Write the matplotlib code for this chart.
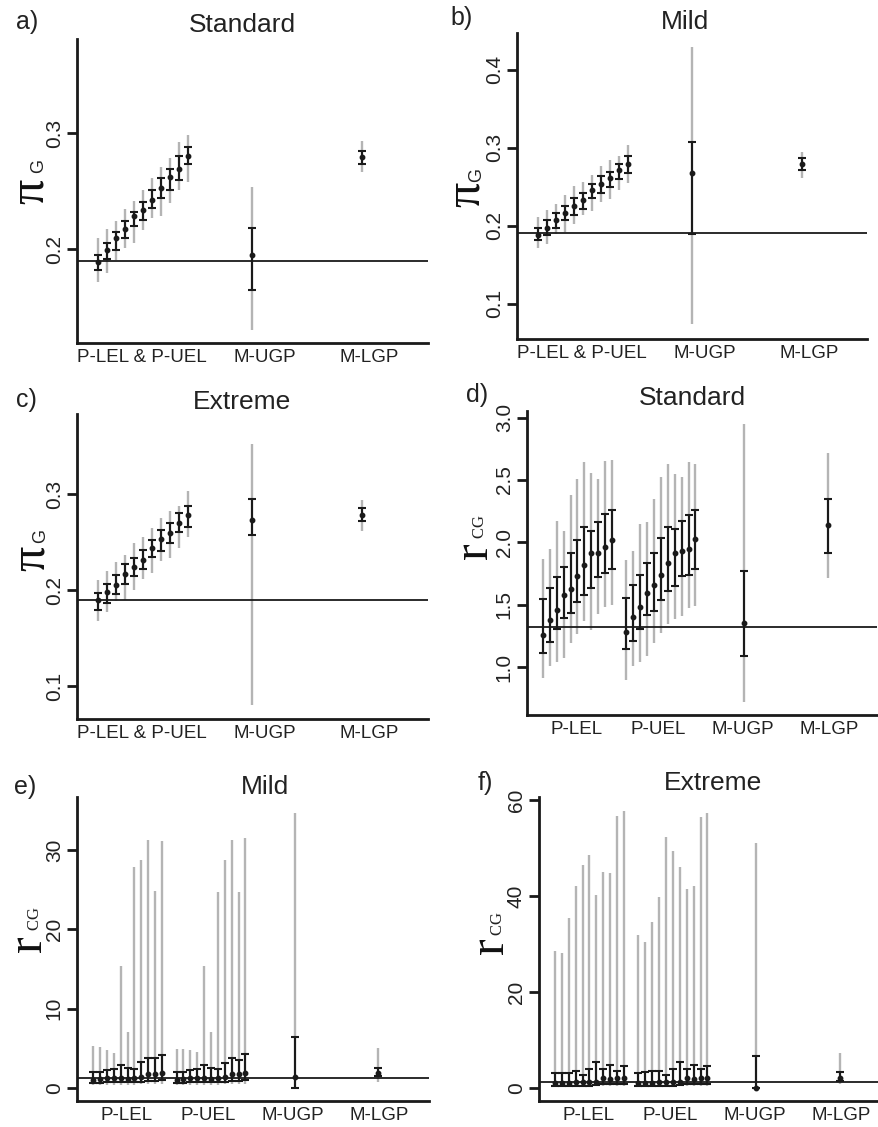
import numpy as np
import matplotlib
matplotlib.use("Agg")
import matplotlib.pyplot as plt

plt.rcParams['font.family'] = ['Liberation Sans', 'DejaVu Sans']
plt.rcParams['mathtext.fontset'] = 'custom'
plt.rcParams['mathtext.rm'] = 'Liberation Serif'
plt.rcParams['mathtext.it'] = 'Liberation Serif:italic'
plt.rcParams['mathtext.bf'] = 'Liberation Serif:bold'
plt.rcParams['mathtext.sf'] = 'Liberation Sans'

# ---------------- data ----------------
# panels a-c: 11 points (P-LEL & P-UEL), then M-UGP, M-LGP
a_est    = [0.1885, 0.1989, 0.2098, 0.2172, 0.2287, 0.2339, 0.2420, 0.2523, 0.2621, 0.2690, 0.2799, 0.1948, 0.2793]
a_in_lo  = [0.1816, 0.1914, 0.1989, 0.2092, 0.2195, 0.2253, 0.2356, 0.2437, 0.2511, 0.2598, 0.2736, 0.1644, 0.2730]
a_in_hi  = [0.1948, 0.2052, 0.2149, 0.2241, 0.2322, 0.2402, 0.2511, 0.2609, 0.2690, 0.2805, 0.2879, 0.2184, 0.2845]
a_out_lo = [0.1713, 0.1793, 0.1902, 0.2011, 0.2052, 0.2161, 0.2270, 0.2287, 0.2397, 0.2511, 0.2575, 0.1305, 0.2667]
a_out_hi = [0.2092, 0.2172, 0.2241, 0.2345, 0.2414, 0.2506, 0.2609, 0.2707, 0.2787, 0.2920, 0.2983, 0.2534, 0.2931]

b_est    = [0.1880, 0.1974, 0.2068, 0.2162, 0.2256, 0.2325, 0.2453, 0.2538, 0.2607, 0.2709, 0.2786, 0.2675, 0.2786]
b_in_lo  = [0.1821, 0.1880, 0.1974, 0.2077, 0.2137, 0.2214, 0.2350, 0.2419, 0.2496, 0.2598, 0.2675, 0.1889, 0.2718]
b_in_hi  = [0.1966, 0.2068, 0.2162, 0.2256, 0.2350, 0.2419, 0.2530, 0.2641, 0.2692, 0.2795, 0.2889, 0.3077, 0.2872]
b_out_lo = [0.1709, 0.1769, 0.1889, 0.1923, 0.2017, 0.2137, 0.2188, 0.2308, 0.2342, 0.2453, 0.2547, 0.0735, 0.2615]
b_out_hi = [0.2111, 0.2205, 0.2274, 0.2393, 0.2513, 0.2564, 0.2650, 0.2761, 0.2838, 0.2889, 0.3034, 0.4291, 0.2940]

c_est    = [0.1896, 0.1986, 0.2056, 0.2167, 0.2243, 0.2319, 0.2444, 0.2535, 0.2597, 0.2701, 0.2785, 0.2729, 0.2778]
c_in_lo  = [0.1799, 0.1868, 0.1958, 0.2063, 0.2146, 0.2222, 0.2347, 0.2410, 0.2486, 0.2604, 0.2653, 0.2576, 0.2715]
c_in_hi  = [0.1972, 0.2069, 0.2160, 0.2271, 0.2340, 0.2417, 0.2521, 0.2625, 0.2694, 0.2799, 0.2875, 0.2944, 0.2854]
c_out_lo = [0.1681, 0.1778, 0.1889, 0.1896, 0.2000, 0.2118, 0.2174, 0.2306, 0.2340, 0.2444, 0.2556, 0.0806, 0.2611]
c_out_hi = [0.2104, 0.2201, 0.2292, 0.2368, 0.2486, 0.2556, 0.2646, 0.2750, 0.2826, 0.2875, 0.3035, 0.3521, 0.2938]

# panels d-f: 11 P-LEL, 11 P-UEL, then M-UGP, M-LGP
d_est    = [1.256, 1.379, 1.459, 1.581, 1.629, 1.731, 1.816, 1.917, 1.917, 1.965, 2.019,
            1.283, 1.400, 1.480, 1.597, 1.656, 1.736, 1.832, 1.917, 1.928, 1.949, 2.024, 1.357, 2.141]
d_in_lo  = [1.112, 1.203, 1.309, 1.395, 1.432, 1.523, 1.576, 1.635, 1.725, 1.752, 1.789,
            1.144, 1.213, 1.309, 1.416, 1.448, 1.539, 1.608, 1.651, 1.731, 1.741, 1.784, 1.085, 1.917]
d_in_hi  = [1.544, 1.635, 1.725, 1.805, 1.912, 2.019, 2.125, 2.093, 2.163, 2.227, 2.259,
            1.555, 1.661, 1.741, 1.837, 1.917, 2.035, 2.120, 2.109, 2.168, 2.216, 2.259, 1.773, 2.349]
d_out_lo = [0.909, 1.011, 1.037, 1.075, 1.197, 1.267, 1.373, 1.299, 1.427, 1.480, 1.496,
            0.899, 1.011, 1.037, 1.091, 1.197, 1.277, 1.347, 1.384, 1.411, 1.475, 1.491, 0.723, 1.715]
d_out_hi = [1.869, 1.949, 2.173, 2.093, 2.376, 2.509, 2.643, 2.557, 2.509, 2.653, 2.664,
            1.859, 1.928, 2.147, 2.163, 2.344, 2.520, 2.632, 2.547, 2.525, 2.643, 2.632, 2.947, 2.717]

e_est    = [1.05, 1.10, 1.20, 1.20, 1.30, 1.15, 1.20, 1.35, 1.80, 1.80, 1.95,
            1.05, 1.10, 1.20, 1.20, 1.30, 1.15, 1.20, 1.35, 1.80, 1.80, 1.95, 1.43, 1.85]
e_in_lo  = [0.60, 0.65, 0.70, 0.70, 0.75, 0.70, 0.70, 0.75, 0.90, 0.90, 0.95,
            0.60, 0.65, 0.70, 0.70, 0.75, 0.70, 0.70, 0.75, 0.90, 0.90, 0.95, 0.04, 1.51]
e_in_hi  = [2.02, 2.06, 2.27, 2.36, 2.94, 2.52, 2.40, 3.24, 3.82, 3.74, 4.20,
            2.01, 2.01, 2.26, 2.42, 2.93, 2.51, 2.34, 3.18, 3.84, 3.51, 4.26, 6.39, 2.56]
e_out_lo = [0.35, 0.38, 0.40, 0.40, 0.42, 0.40, 0.40, 0.45, 0.50, 0.50, 0.55,
            0.35, 0.38, 0.40, 0.40, 0.42, 0.40, 0.40, 0.45, 0.50, 0.50, 0.55, 0.02, 0.80]
e_out_hi = [5.27, 5.18, 4.76, 4.43, 15.38, 7.10, 27.92, 28.75, 31.26, 24.82, 31.17,
            4.93, 4.93, 4.85, 4.60, 15.38, 7.10, 24.74, 28.75, 31.26, 24.74, 31.51, 34.68, 5.04]

f_est    = [0.97, 0.97, 1.11, 1.18, 1.25, 1.25, 1.32, 2.01, 1.88, 2.15, 2.01,
            0.97, 0.97, 1.11, 1.18, 1.25, 1.25, 1.32, 2.00, 1.90, 2.10, 2.00, 0.07, 2.01]
f_in_lo  = [0.40, 0.40, 0.45, 0.50, 0.50, 0.50, 0.55, 0.80, 0.75, 0.85, 0.80,
            0.40, 0.40, 0.45, 0.50, 0.50, 0.50, 0.55, 0.80, 0.75, 0.85, 0.80, 0.05, 1.46]
f_in_hi  = [3.06, 3.06, 3.19, 3.47, 2.64, 3.89, 5.42, 4.03, 4.86, 3.61, 4.58,
            3.19, 3.33, 3.61, 3.61, 2.64, 3.89, 5.42, 4.03, 4.72, 3.89, 4.58, 6.74, 3.26]
f_out_lo = [0.25, 0.25, 0.28, 0.30, 0.30, 0.30, 0.32, 0.45, 0.42, 0.50, 0.45,
            0.25, 0.25, 0.28, 0.30, 0.30, 0.30, 0.32, 0.45, 0.42, 0.50, 0.45, 0.00, 0.83]
f_out_hi = [28.47, 28.06, 35.42, 42.08, 46.53, 48.47, 40.28, 45.00, 44.86, 56.67, 57.78,
            31.94, 30.42, 34.58, 39.86, 52.36, 49.44, 46.11, 41.53, 42.08, 56.39, 57.22, 51.10, 7.22]

pi_labels = ['P-LEL & P-UEL', 'M-UGP', 'M-LGP']
r_labels = ['P-LEL', 'P-UEL', 'M-UGP', 'M-LGP']
pi_ticks_a = [0.2, 0.3]
pi_ticks_b = [0.1, 0.2, 0.3, 0.4]
pi_ticks_c = [0.1, 0.2, 0.3]
r_ticks_d = [1.0, 1.5, 2.0, 2.5, 3.0]
r_ticks_e = [0, 10, 20, 30]
r_ticks_f = [0, 20, 40, 60]
ref_pi = 0.19
ref_d = 1.32
ref_ef = 1.3

# ---------------- layout ----------------
W, H = 879, 1127
fig = plt.figure(figsize=(W / 100, H / 100), dpi=100)

GRAY = '#b4b4b4'
BLACK = '#1a1a1a'

# x positions in pixels from the left spine
x_pi = list(20.5 + 9.0 * np.arange(11)) + [175, 285]
x_pi_lab = [65, 188, 292]
x_r = list(16 + 6.9 * np.arange(11)) + list(99.5 + 6.9 * np.arange(11)) + [217.5, 301.5]
x_r_lab = [50, 131, 216, 302]


def make_ax(l, t, r, b):
    return fig.add_axes([l / W, 1 - b / H, (r - l) / W, (b - t) / H])


def panel(rect, xs, est, ilo, ihi, olo, ohi, ylim, yticks, fmt, xlab_pos, xlabs, ref):
    l, t, r, b = rect
    ax = make_ax(l, t, r, b)
    est, ilo, ihi, olo, ohi = map(np.asarray, (est, ilo, ihi, olo, ohi))
    ax.vlines(xs, olo, ohi, color=GRAY, lw=1.7, zorder=1)
    ax.axhline(ref, color=BLACK, lw=1.3, zorder=2)
    ax.errorbar(xs, est, yerr=[est - ilo, ihi - est], fmt='o', color=BLACK,
                ms=3.2, elinewidth=1.5, capsize=2.6, capthick=1.5, zorder=3)
    ax.set_xlim(0, r - l)
    ax.set_ylim(*ylim)
    for s in ['top', 'right']:
        ax.spines[s].set_visible(False)
    for s in ['left', 'bottom']:
        ax.spines[s].set_linewidth(2.0)
        ax.spines[s].set_color(BLACK)
    ax.set_yticks(yticks)
    ax.set_yticklabels([fmt.format(v) for v in yticks], rotation=90, va='center',
                       fontsize=15, color='#222222')
    ax.tick_params(axis='y', length=7.5, width=2.0, pad=2, color=BLACK)
    ax.set_xticks(xlab_pos)
    ax.set_xticklabels(xlabs, fontsize=13.5, color='#222222')
    ax.tick_params(axis='x', length=0, pad=4)
    return ax


def ftext(x, y, s, **kw):
    fig.text(x / W, 1 - y / H, s, ha='center', va='center', **kw)


panel((77, 39, 428, 343), x_pi, a_est, a_in_lo, a_in_hi, a_out_lo, a_out_hi,
      (0.119, 0.381), pi_ticks_a, '{:.1f}', x_pi_lab, pi_labels, ref_pi)
panel((517, 33, 867, 339), x_pi, b_est, b_in_lo, b_in_hi, b_out_lo, b_out_hi,
      (0.0547, 0.447), pi_ticks_b, '{:.1f}', x_pi_lab, pi_labels, ref_pi)
panel((77, 414, 428, 719), x_pi, c_est, c_in_lo, c_in_hi, c_out_lo, c_out_hi,
      (0.066, 0.3833), pi_ticks_c, '{:.1f}', x_pi_lab, pi_labels, ref_pi)
panel((527, 411, 877, 715), x_r, d_est, d_in_lo, d_in_hi, d_out_lo, d_out_hi,
      (0.616, 3.053), r_ticks_d, '{:.1f}', x_r_lab, r_labels, ref_d)
panel((77, 797, 429, 1101), x_r, e_est, e_in_lo, e_in_hi, e_out_lo, e_out_hi,
      (-1.64, 36.7), r_ticks_e, '{:d}', x_r_lab, r_labels, ref_ef)
panel((539, 797, 879, 1101), x_r, f_est, f_in_lo, f_in_hi, f_out_lo, f_out_hi,
      (-2.71, 60.6), r_ticks_f, '{:d}', x_r_lab, r_labels, ref_ef)

# titles
tkw = dict(fontsize=19, color='#222222')
ftext(242, 25, 'Standard', **tkw)
ftext(685, 22, 'Mild', **tkw)
ftext(242, 402, 'Extreme', **tkw)
ftext(692, 398, 'Standard', **tkw)
ftext(265, 787, 'Mild', **tkw)
ftext(713, 783, 'Extreme', **tkw)

# panel letters
lkw = dict(fontsize=18, color='#222222')
ftext(27, 22, 'a)', **lkw)
ftext(462, 18, 'b)', **lkw)
ftext(26, 400, 'c)', **lkw)
ftext(477, 395, 'd)', **lkw)
ftext(25, 787, 'e)', **lkw)
ftext(485, 783, 'f)', **lkw)

# y-axis labels (big serif glyph + small subscript); mathtext gives tight ink boxes
bigkw = dict(fontsize=36, rotation=90, color='#111111')
subkw = dict(fontsize=13, rotation=90, color='#222222')
cgkw = dict(fontsize=12, rotation=90, color='#222222')
PI = r'$\mathrm{\pi}$'
R = r'$\mathrm{r}$'
G = r'$\mathsf{G}$'
CG = r'$\mathrm{CG}$'
ftext(30, 192, PI, **bigkw); ftext(40, 167, G, **subkw)
ftext(467, 195, PI, **bigkw); ftext(478, 176, G, **subkw)
ftext(32, 559, PI, **bigkw); ftext(42, 537, G, **subkw)
ftext(475, 552, R, **bigkw); ftext(480, 527, CG, **cgkw)
ftext(29, 945, R, **bigkw); ftext(35, 919, CG, **cgkw)
ftext(491, 947, R, **bigkw); ftext(497, 924, CG, **cgkw)

fig.savefig('out.png', dpi=100)
